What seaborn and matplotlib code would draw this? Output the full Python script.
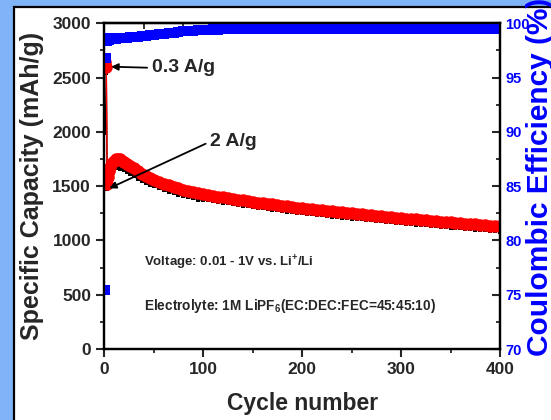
import matplotlib
matplotlib.use('Agg')
import matplotlib.pyplot as plt
import seaborn as sns
import pandas as pd
from matplotlib.patches import Rectangle

cycles = [1, 2, 3, 4, 5, 6, 8, 10, 12, 14, 16, 18, 20, 23, 26, 30, 34, 38, 42, 46] + list(range(50, 401, 5))

# discharge capacity (red), mAh/g
discharge = [2640, 2600, 1520, 1585, 1635, 1672, 1712, 1735, 1748, 1750,
             1746, 1736, 1724, 1706, 1688, 1664, 1640, 1616, 1596, 1577,
             1560, 1541, 1524, 1508, 1494, 1481, 1469, 1458, 1447, 1437,
             1428, 1420, 1412, 1403, 1396, 1389, 1381, 1375, 1368, 1362,
             1355, 1349, 1343, 1337, 1331, 1325, 1319, 1314, 1308, 1303,
             1298, 1293, 1288, 1283, 1278, 1273, 1268, 1264, 1259, 1254,
             1250, 1245, 1241, 1236, 1232, 1228, 1223, 1219, 1215, 1211,
             1206, 1202, 1198, 1194, 1190, 1186, 1182, 1178, 1174, 1170,
             1166, 1162, 1158, 1155, 1151, 1147, 1144, 1140, 1137, 1133,
             1130]

# charge capacity (black), mAh/g
charge = [1990, 2540, 1470, 1520, 1570, 1610, 1645, 1665, 1670, 1665,
          1660, 1655, 1650, 1632, 1614, 1590, 1567, 1545, 1525, 1507,
          1500, 1481, 1464, 1448, 1434, 1421, 1409, 1398, 1387, 1377,
          1368, 1372, 1364, 1355, 1348, 1341, 1333, 1327, 1320, 1314,
          1307, 1301, 1295, 1289, 1283, 1277, 1271, 1266, 1260, 1255,
          1250, 1245, 1240, 1235, 1230, 1225, 1220, 1216, 1211, 1206,
          1202, 1197, 1193, 1188, 1184, 1180, 1175, 1171, 1167, 1163,
          1158, 1154, 1150, 1146, 1142, 1138, 1134, 1130, 1126, 1122,
          1118, 1114, 1110, 1107, 1103, 1099, 1096, 1092, 1089, 1085,
          1082]

# coulombic efficiency (blue), %
efficiency = [75.4, 96.8, 98.4, 98.5, 98.5, 98.6, 98.55, 98.6, 98.55, 98.6,
              98.6, 98.65, 98.6, 98.65, 98.7, 98.7, 98.75, 98.8, 98.85, 98.9,
              98.95, 99.0, 99.05, 99.1, 99.15, 99.2, 99.25, 99.3, 99.3, 99.35,
              99.4, 99.4, 99.45, 99.4, 99.45, 99.45, 99.5, 99.45, 99.5, 99.5,
              99.55, 99.5, 99.45, 99.5, 99.55, 99.5, 99.5, 99.45, 99.5, 99.55,
              99.5, 99.5, 99.55, 99.5, 99.45, 99.5, 99.5, 99.55, 99.5, 99.5,
              99.45, 99.5, 99.55, 99.5, 99.5, 99.5, 99.55, 99.5, 99.45, 99.5,
              99.5, 99.55, 99.5, 99.5, 99.5, 99.45, 99.5, 99.55, 99.5, 99.5,
              99.5, 99.55, 99.5, 99.45, 99.5, 99.5, 99.55, 99.5, 99.5, 99.5,
              99.55]

df = pd.DataFrame({'cycle': cycles, 'discharge': discharge,
                   'charge': charge, 'efficiency': efficiency})

sns.set_style('ticks')
plt.rcParams['font.family'] = ['Liberation Sans', 'DejaVu Sans']
plt.rcParams['font.weight'] = 'bold'
plt.rcParams['mathtext.fontset'] = 'custom'
plt.rcParams['mathtext.rm'] = 'Liberation Sans:bold'
plt.rcParams['mathtext.it'] = 'Liberation Sans:bold'
plt.rcParams['mathtext.bf'] = 'Liberation Sans:bold'

W, H = 551, 420
fig = plt.figure(figsize=(W / 100, H / 100), dpi=100, facecolor='#7fb4f8')
fig.patches.append(Rectangle((14 / W, -0.1), 1.2, 1.1 - 7 / H, transform=fig.transFigure,
                             facecolor='white', edgecolor='black', linewidth=1.6, zorder=-5))

x0, x1, y0, y1 = 104.3, 500.0, 349.0, 23.3
ax = fig.add_axes([x0 / W, 1 - y0 / H, (x1 - x0) / W, (y0 - y1) / H])
ax.set_facecolor('white')

sns.lineplot(data=df, x='cycle', y='charge', ax=ax, color='black', linewidth=1.0,
             marker='s', markersize=2.5, markeredgewidth=0, estimator=None, sort=False)
sns.lineplot(data=df, x='cycle', y='discharge', ax=ax, color='red', linewidth=1.0,
             marker='o', markersize=9, markeredgewidth=0, estimator=None, sort=False)

ax.set_xlim(0, 400)
ax.set_ylim(0, 3000)
ax.set_xticks(range(0, 401, 100))
ax.set_xticks(range(50, 400, 100), minor=True)
ax.set_yticks(range(0, 3001, 500))
ax.set_yticks(range(250, 3000, 500), minor=True)
ax.tick_params(axis='both', which='major', direction='out', length=5.5, width=1.5,
               labelsize=12.5, pad=4)
ax.tick_params(axis='both', which='minor', direction='out', length=3, width=1.3)
ax.tick_params(top=False, right=False)

ax.set_xlabel('Cycle number', fontsize=16.5, fontweight='bold')
ax.xaxis.set_label_coords(0.5, -0.166)
ax.xaxis.label.set_verticalalignment('center')
ax.set_ylabel('Specific Capacity (mAh/g)', fontsize=18, fontweight='bold')
ax.yaxis.set_label_coords(-0.183, 0.5)
ax.yaxis.label.set_verticalalignment('center')

ax2 = ax.twinx()
sns.lineplot(data=df, x='cycle', y='efficiency', ax=ax2, color='blue', linestyle='none',
             marker='s', markersize=7.5, markeredgewidth=0, estimator=None, sort=False)
ax2.set_ylim(70, 100)
ax2.set_yticks(range(70, 101, 5))
ax2.set_yticks([72.5, 77.5, 82.5, 87.5, 92.5, 97.5], minor=True)
ax2.tick_params(axis='y', which='major', direction='in', length=5.5, width=1.5,
                labelsize=10.5, labelcolor='blue', pad=4)
ax2.tick_params(axis='y', which='minor', direction='in', length=3, width=1.3)
ax2.set_ylabel('Coulombic Efficiency (%)', fontsize=21.5, fontweight='bold', color='blue',
               rotation=90)
ax2.yaxis.set_label_coords(1.101, 0.527)
ax2.yaxis.label.set_verticalalignment('center')

top = ax.secondary_xaxis('top')
top.set_xticks(range(40, 400, 40))
top.tick_params(direction='in', length=4, width=1.3, labeltop=False)

for a in (ax, ax2, top):
    for s in a.spines.values():
        s.set_linewidth(1.6)
        s.set_color('black')

ax.annotate('0.3 A/g', xy=(7, 2600), xytext=(48, 2590), fontsize=14, fontweight='bold',
            va='center', ha='left',
            arrowprops=dict(arrowstyle='-|>', color='black', lw=1.3, mutation_scale=10,
                            relpos=(0, 0.5), shrinkA=1, shrinkB=0))
ax.annotate('2 A/g', xy=(5, 1480), xytext=(107, 1910), fontsize=14, fontweight='bold',
            va='center', ha='left',
            arrowprops=dict(arrowstyle='-|>', color='black', lw=1.3, mutation_scale=10,
                            relpos=(0, 0.5), shrinkA=1, shrinkB=0))

ax.text(40, 789, 'Voltage: 0.01 - 1V vs. Li$^{+}$/Li', fontsize=9.5, fontweight='bold',
        va='center', ha='left')
ax.text(40, 396, 'Electrolyte: 1M LiPF$_{6}$(EC:DEC:FEC=45:45:10)', fontsize=9.8,
        fontweight='bold', va='center', ha='left')

fig.savefig('out.png', dpi=100, facecolor=fig.get_facecolor())
